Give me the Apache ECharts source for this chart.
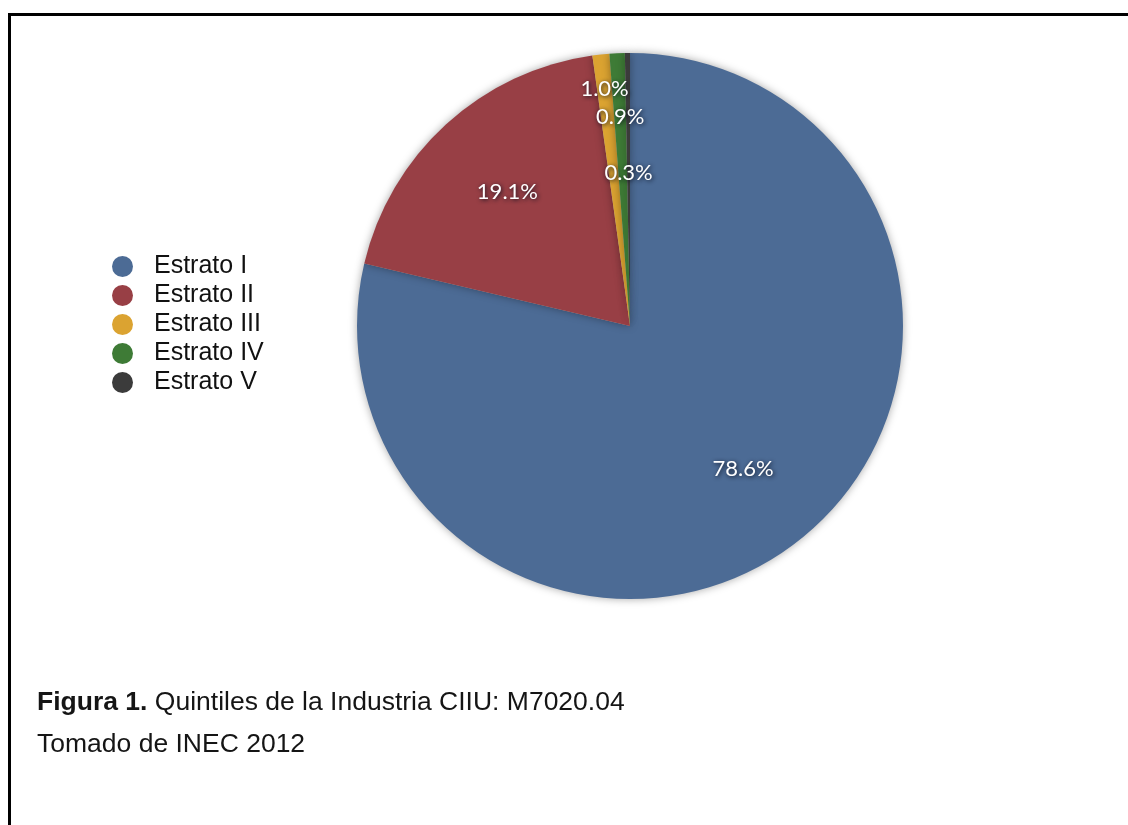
<!DOCTYPE html>
<html>
<head>
<meta charset="utf-8">
<script src="https://cdn.jsdelivr.net/npm/echarts@6/dist/echarts.min.js"></script>
<style>
html,body{margin:0;padding:0;background:#fff;}
#chart{width:1128px;height:825px;}
</style>
</head>
<body>
<div id="chart"></div>
<script>
// ---- data ----
const categories = ['Estrato I', 'Estrato II', 'Estrato III', 'Estrato IV', 'Estrato V'];
const values = [78.6, 19.1, 1.0, 0.9, 0.3];
const captionBold = 'Figura 1.';
const captionText = 'Quintiles de la Industria CIIU: M7020.04';
const sourceText = 'Tomado de INEC 2012';

// ---- style ----
const colors = ['#4c6b95', '#983f45', '#dba331', '#3e7b36', '#3b3b3b'];
const pieCenter = [630, 326];
const pieRadius = 273;
// inner radius of the invisible ring used to place each slice's label
const labelRingInner = [85, 85, 198, 140, 27];

const chart = echarts.init(document.getElementById('chart'), null, {renderer: 'canvas'});

const mainData = categories.map((c, i) => ({
  name: c, value: values[i], itemStyle: {color: colors[i]}
}));

const labelSeries = categories.map((c, k) => ({
  type: 'pie',
  silent: true,
  center: pieCenter,
  radius: [labelRingInner[k], pieRadius],
  startAngle: 90,
  clockwise: true,
  avoidLabelOverlap: false,
  labelLine: {show: false},
  emphasis: {disabled: true},
  itemStyle: {color: 'rgba(0,0,0,0)', borderWidth: 0},
  data: categories.map((n, i) => ({
    name: n,
    value: values[i],
    label: {
      show: i === k,
      position: 'inside',
      formatter: () => values[i].toFixed(1) + '%',
      color: '#ffffff',
      fontFamily: 'Lato, "Open Sans", sans-serif',
      fontSize: 22,
      textShadowColor: 'rgba(10,15,30,0.95)',
      textShadowBlur: 4,
      textShadowOffsetX: 1,
      textShadowOffsetY: 1
    }
  }))
}));

const option = {
  animation: false,
  backgroundColor: '#ffffff',
  graphic: [{
    type: 'rect',
    shape: {x: 9.5, y: 14.5, width: 1140, height: 840},
    style: {fill: 'none', stroke: '#000', lineWidth: 3},
    silent: true
  }],
  title: [{
    text: '{b|' + captionBold + '} ' + captionText,
    left: 37, top: 689, padding: 0,
    textStyle: {
      fontFamily: '"Liberation Sans", Arial, sans-serif',
      fontSize: 26.5, fontWeight: 'normal', color: '#151515',
      rich: {b: {fontFamily: '"Liberation Sans", Arial, sans-serif', fontSize: 26.5, fontWeight: 'bold', color: '#151515'}}
    }
  }, {
    text: sourceText,
    left: 37, top: 731, padding: 0,
    textStyle: {
      fontFamily: '"Liberation Sans", Arial, sans-serif',
      fontSize: 26.5, fontWeight: 'normal', color: '#151515'
    }
  }],
  legend: {
    orient: 'vertical',
    left: 112, top: 254,
    padding: 0,
    icon: 'circle',
    itemWidth: 21, itemHeight: 21,
    itemGap: 4,
    selectedMode: false,
    data: categories.map((c, i) => ({name: c, itemStyle: {color: colors[i]}})),
    textStyle: {
      fontFamily: '"Liberation Sans", Arial, sans-serif',
      fontSize: 25, lineHeight: 25, color: '#111',
      padding: [0, 0, 0, 16]
    }
  },
  series: [{
    type: 'pie',
    center: pieCenter,
    radius: [0, pieRadius],
    startAngle: 90,
    clockwise: true,
    label: {show: false},
    labelLine: {show: false},
    emphasis: {disabled: true},
    itemStyle: {
      shadowBlur: 8,
      shadowColor: 'rgba(0,0,0,0.35)',
      borderWidth: 0
    },
    data: mainData
  }].concat(labelSeries)
};

chart.setOption(option);
</script>
</body>
</html>
